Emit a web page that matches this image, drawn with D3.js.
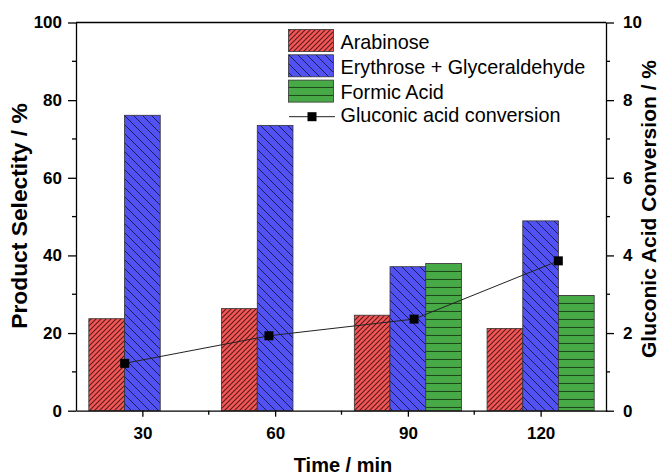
<!DOCTYPE html>
<html><head><meta charset="utf-8">
<script src="https://cdn.jsdelivr.net/npm/d3@7"></script>
<style>body{margin:0;background:#fff}svg{display:block}text{font-family:"Liberation Sans",Arial,sans-serif}</style>
</head><body><svg id="c" width="662" height="474"></svg>
<script>
const times = [30, 60, 90, 120];
const arabinose = [23.7, 26.3, 24.6, 21.2];
const erythrose = [76.1, 73.5, 37.1, 48.9];
const formic = [0, 0, 37.9, 29.7];
const convTimes = [26.0, 58.6, 91.4, 124.0];
const conversion = [1.22, 1.93, 2.36, 3.86];
const xTicks = [30, 60, 90, 120];
const yLeftTicks = [0, 20, 40, 60, 80, 100];
const yRightTicks = [0, 2, 4, 6, 8, 10];
const seriesNames = ["Arabinose", "Erythrose + Glyceraldehyde", "Formic Acid"];
const lineName = "Gluconic acid conversion";

const svg = d3.select("#c");
const L = 76, R = 606, T = 22.5, B = 410.7;
const x = d3.scaleLinear().domain([15, 135]).range([L, R + 1]);
const y = d3.scaleLinear().domain([0, 100]).range([B, T]);
const y2 = d3.scaleLinear().domain([0, 10]).range([B, T]);

const defs = svg.append("defs");
function pat(id, fill, size, path, sw, stroke) {
  const p = defs.append("pattern").attr("id", id).attr("patternUnits", "userSpaceOnUse")
    .attr("width", size).attr("height", size);
  p.append("rect").attr("width", size).attr("height", size).attr("fill", fill);
  p.append("path").attr("d", path).attr("stroke", stroke).attr("stroke-width", sw).attr("fill", "none");
}
pat("pRed", "#f25656", 5, "M-1,6 L6,-1 M-1,1 L1,-1 M4,6 L6,4", 1.1, "#5a1a1a");
pat("pBlue", "#5252f2", 9, "M-1,-1 L10,10 M-1,8 L1,10 M8,-1 L10,1", 1.0, "#1a1a5e");
pat("pGreen", "#47aa47", 8, "M0,7.5 L8,7.5", 1.1, "#1e4a1e");
const fills = ["url(#pRed)", "url(#pBlue)", "url(#pGreen)"];
const dataSets = [arabinose, erythrose, formic];
const offsets = [-8.07, 0, 8.07];
const bw = x(8.07) - x(0);

dataSets.forEach((vals, s) => {
  svg.append("g").selectAll("rect").data(times.map((t, i) => ({t, v: vals[i]})).filter(d => d.v > 0))
    .join("rect")
    .attr("x", d => x(d.t + offsets[s]) - bw / 2)
    .attr("width", bw)
    .attr("y", d => y(d.v))
    .attr("height", d => B - y(d.v))
    .attr("fill", fills[s])
    .attr("stroke", "#333").attr("stroke-width", 0.8);
});

// line
const pts = convTimes.map((t, i) => [x(t), y2(conversion[i])]);
svg.append("path").attr("d", d3.line()(pts)).attr("fill", "none").attr("stroke", "#222").attr("stroke-width", 1);
svg.append("g").selectAll("rect").data(pts).join("rect")
  .attr("x", d => d[0] - 4.5).attr("y", d => d[1] - 4.5).attr("width", 9).attr("height", 9).attr("fill", "#000");

// axes
const fontTick = "bold 17px 'Liberation Sans', Arial, sans-serif";
const gx = svg.append("g").attr("transform", `translate(0,${B})`)
  .call(d3.axisBottom(x).tickValues(xTicks).tickSize(6).tickSizeOuter(0).tickPadding(10));
gx.append("g").selectAll("line").data([45, 75, 105]).join("line")
  .attr("x1", d => x(d)).attr("x2", d => x(d)).attr("y1", 0).attr("y2", 4).attr("stroke", "#000");
const gy = svg.append("g").attr("transform", `translate(${L},0)`)
  .call(d3.axisLeft(y).tickValues(yLeftTicks).tickSize(8).tickSizeOuter(0).tickPadding(6));
gy.append("g").selectAll("line").data([10, 30, 50, 70, 90]).join("line")
  .attr("x1", 0).attr("x2", -4).attr("y1", d => y(d)).attr("y2", d => y(d)).attr("stroke", "#000");
const gy2 = svg.append("g").attr("transform", `translate(${R},0)`)
  .call(d3.axisRight(y2).tickValues(yRightTicks).tickSize(8).tickSizeOuter(0).tickPadding(9));
gy2.append("g").selectAll("line").data([1, 3, 5, 7, 9]).join("line")
  .attr("x1", 0).attr("x2", 4).attr("y1", d => y2(d)).attr("y2", d => y2(d)).attr("stroke", "#000");
[gx, gy, gy2].forEach(g => {
  g.selectAll("text").style("font", fontTick).attr("fill", "#000");
  g.selectAll("path.domain").attr("stroke", "#000").attr("stroke-width", 1.3);
  g.selectAll("line").attr("stroke-width", 1.3);
});
svg.append("line").attr("x1", L).attr("x2", R).attr("y1", T).attr("y2", T).attr("stroke", "#000").attr("stroke-width", 1.3);

// titles
svg.append("text").attr("x", 343).attr("y", 471.5).attr("text-anchor", "middle")
  .style("font", "bold 20px 'Liberation Sans', Arial, sans-serif").text("Time / min");
svg.append("text").attr("transform", `translate(27,216) rotate(-90)`).attr("text-anchor", "middle")
  .style("font", "bold 22.8px 'Liberation Sans', Arial, sans-serif").text("Product Selectity / %");
svg.append("text").attr("transform", `translate(655.5,209) rotate(-90)`).attr("text-anchor", "middle")
  .style("font", "bold 21px 'Liberation Sans', Arial, sans-serif").text("Gluconic Acid Conversion / %");

// legend
const lg = svg.append("g");
const fontLeg = "19.8px 'Liberation Sans', Arial, sans-serif";
seriesNames.forEach((n, i) => {
  const yy = 29.5 + i * 25.3;
  lg.append("rect").attr("x", 288.5).attr("y", yy).attr("width", 45).attr("height", 22)
    .attr("fill", fills[i]).attr("stroke", "#333").attr("stroke-width", 0.8);
  lg.append("text").attr("x", 340.5).attr("y", yy + 19).style("font", fontLeg).text(n);
});
const ly = 116.7;
lg.append("line").attr("x1", 289).attr("x2", 335).attr("y1", ly).attr("y2", ly).attr("stroke", "#222").attr("stroke-width", 1);
lg.append("rect").attr("x", 307.5).attr("y", ly - 4.5).attr("width", 9).attr("height", 9).attr("fill", "#000");
lg.append("text").attr("x", 340.5).attr("y", ly + 5).style("font", fontLeg).text(lineName);
</script></body></html>
